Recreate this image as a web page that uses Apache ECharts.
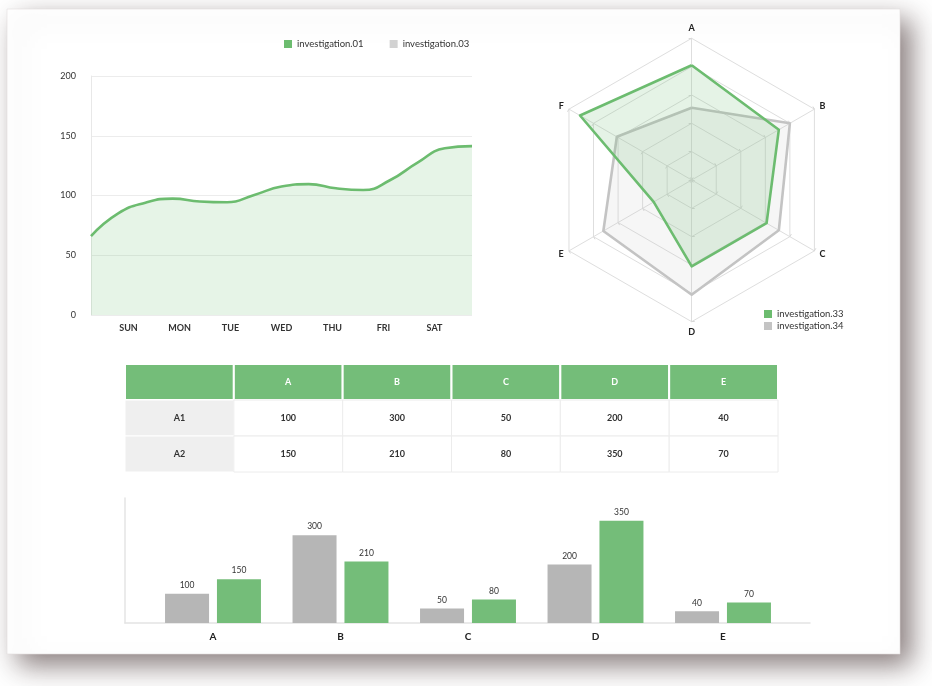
<!DOCTYPE html>
<html><head><meta charset="utf-8">
<script src="https://cdn.jsdelivr.net/npm/echarts@6/dist/echarts.min.js"></script>
<style>html,body{margin:0;padding:0;background:#fff;}#c{width:932px;height:686px;}</style>
</head><body><div id="c"></div>
<script>
// ---- data ----
const days = ['SUN', 'MON', 'TUE', 'WED', 'THU', 'FRI', 'SAT'];
// curve read at 15 evenly spaced positions across the plot
const lineValues = [66, 85, 94, 97.4, 95, 94.3, 100.5, 107.5, 109.5, 106, 104.6, 113, 127.5, 139.5, 141.3];
const lineLegend = ['investigation.01', 'investigation.03'];
const radarAxes = ['A', 'B', 'C', 'D', 'E', 'F'];
const radarMax = 100;
const radar33 = [81, 71, 61, 61, 31, 91];
const radar34 = [51, 80, 71, 81, 72, 61];
const radarLegend = ['investigation.33', 'investigation.34'];
const tableCols = ['A', 'B', 'C', 'D', 'E'];
const rowNames = ['A1', 'A2'];
const a1Values = [100, 300, 50, 200, 40];
const a2Values = [150, 210, 80, 350, 70];

const GREEN = '#74bd79';
const LINEGREEN = '#6cbc6f';
const GREY = '#b6b6b6';
const FONT = 'Lato';

// radar drawn clockwise: A, then B on the right ...
const order = [0, 5, 4, 3, 2, 1];
const pick = arr => order.map(i => arr[i]);

// table cells built from the arrays above
const tableRows = [[''].concat(tableCols), [rowNames[0]].concat(a1Values), [rowNames[1]].concat(a2Values)];
const cells = [];
tableRows.forEach((row, r) => row.forEach((t, c) => cells.push({ col: c, row: r, text: String(t) })));

const chart = echarts.init(document.getElementById('c'));
chart.setOption({
  animation: false,
  textStyle: { fontFamily: FONT },
  graphic: [{
    type: 'rect', z: -10,
    shape: { x: 7, y: 9, width: 893, height: 645 },
    style: { fill: '#fff', stroke: '#e2dede', lineWidth: 0.6, shadowBlur: 26, shadowOffsetX: 11, shadowOffsetY: 11, shadowColor: 'rgba(60,40,40,0.6)' }
  }],
  legend: [{
    data: lineLegend, left: 279, top: 34, itemWidth: 8, itemHeight: 8, itemGap: 26, icon: 'rect',
    textStyle: { fontSize: 9.5, color: '#333', fontFamily: FONT }
  }, {
    data: radarLegend, orient: 'vertical', left: 759, top: 304, itemWidth: 8, itemHeight: 8, itemGap: 2, icon: 'rect',
    textStyle: { fontSize: 9.5, color: '#333', fontFamily: FONT }
  }],
  grid: [
    { left: 91, top: 76, width: 381, height: 239 },
    { left: 103, top: 76, width: 357, height: 239 },
    { left: 125, top: 364, width: 653, height: 108 },
    { left: 149.25, top: 506, width: 637.5, height: 117 },
    { left: 125, top: 498, width: 685, height: 125 }
  ],
  xAxis: [
    { gridIndex: 0, type: 'value', min: 0, max: lineValues.length - 1, show: false },
    { gridIndex: 1, type: 'category', data: days, axisLine: { show: false }, axisTick: { show: false },
      axisLabel: { fontSize: 9, color: '#333', fontWeight: 'bold', margin: 9, fontFamily: FONT } },
    { gridIndex: 2, type: 'category', data: tableRows[0], show: false },
    { gridIndex: 3, type: 'category', data: tableCols, axisLine: { show: false }, axisTick: { show: false },
      axisLabel: { fontSize: 10, color: '#222', fontWeight: 'bold', margin: 9, fontFamily: FONT } },
    { gridIndex: 4, type: 'category', data: [''], axisLine: { lineStyle: { color: '#e4e4e4', width: 1.5 } }, axisTick: { show: false }, axisLabel: { show: false } }
  ],
  yAxis: [
    { gridIndex: 0, type: 'value', min: 0, max: 200, interval: 50,
      axisLine: { show: true, lineStyle: { color: '#e8e8e8' } }, axisTick: { show: false },
      axisLabel: { fontSize: 9, color: '#333', margin: 15, fontFamily: FONT },
      splitLine: { lineStyle: { color: '#ececec', width: 1.2 } } },
    { gridIndex: 1, type: 'value', show: false },
    { gridIndex: 2, type: 'category', data: ['', rowNames[0], rowNames[1]], inverse: true, show: false },
    { gridIndex: 3, type: 'value', min: 0, max: 400, show: false },
    { gridIndex: 4, type: 'value', min: 0, max: 1, axisLine: { show: true, lineStyle: { color: '#e4e4e4', width: 1.5 } },
      axisTick: { show: false }, axisLabel: { show: false }, splitLine: { show: false } }
  ],
  radar: {
    center: [691.7, 180], radius: 141.7, startAngle: 90, splitNumber: 5,
    indicator: pick(radarAxes).map(n => ({ name: n, max: radarMax })),
    axisName: { color: '#222', fontSize: 9, fontWeight: 'bold', fontFamily: FONT },
    nameGap: 6,
    splitLine: { lineStyle: { color: '#dedede', width: 1 } },
    splitArea: { show: false },
    axisLine: { lineStyle: { color: '#dedede' } },
    axisTick: { show: true, length: 3, lineStyle: { color: '#d8d8d8' } }
  },
  series: [
    { name: lineLegend[0], type: 'line', xAxisIndex: 0, yAxisIndex: 0, data: lineValues.map((v, i) => [i, v]), smooth: true, symbol: 'none',
      itemStyle: { color: LINEGREEN }, lineStyle: { color: LINEGREEN, width: 2.6 },
      areaStyle: { color: 'rgba(116,190,120,0.25)' } },
    { name: lineLegend[1], type: 'line', xAxisIndex: 0, yAxisIndex: 0, data: [], itemStyle: { color: '#d2d2d2' } },
    { type: 'radar', symbol: 'none', data: [
      { name: radarLegend[1], value: pick(radar34), itemStyle: { color: '#c4c4c4' },
        lineStyle: { color: '#c4c4c4', width: 2.6 }, areaStyle: { color: 'rgba(190,190,190,0.2)' } },
      { name: radarLegend[0], value: pick(radar33), itemStyle: { color: LINEGREEN },
        lineStyle: { color: LINEGREEN, width: 2.6 }, areaStyle: { color: 'rgba(116,190,120,0.27)' } }
    ] },
    { type: 'custom', xAxisIndex: 2, yAxisIndex: 2, data: cells.map(c => [c.col, c.row]),
      renderItem: function (params, api) {
        const cell = cells[params.dataIndex];
        const pt = api.coord([cell.col, cell.row]);
        const sz = api.size([1, 1]);
        let fill = '#fff', stroke = '#ececec', color = '#333', lw = 1;
        if (cell.row === 0) { fill = GREEN; stroke = '#fff'; color = '#fff'; lw = 2; }
        else if (cell.col === 0) { fill = '#efefef'; stroke = '#fff'; }
        return { type: 'group', children: [
          { type: 'rect', shape: { x: pt[0] - sz[0] / 2, y: pt[1] - sz[1] / 2, width: sz[0], height: sz[1] },
            style: { fill: fill, stroke: stroke, lineWidth: lw } },
          { type: 'text', x: pt[0], y: pt[1], style: { text: cell.text, fill: color, font: 'bold 9px ' + FONT, align: 'center', verticalAlign: 'middle' } }
        ] };
      } },
    { name: rowNames[0], type: 'bar', xAxisIndex: 3, yAxisIndex: 3, data: a1Values, barWidth: 44, barGap: '18%',
      itemStyle: { color: GREY },
      label: { show: true, position: 'top', distance: 4, fontSize: 8.5, color: '#333', fontFamily: FONT } },
    { name: rowNames[1], type: 'bar', xAxisIndex: 3, yAxisIndex: 3, data: a2Values, barWidth: 44, barGap: '18%',
      itemStyle: { color: GREEN },
      label: { show: true, position: 'top', distance: 4, fontSize: 8.5, color: '#333', fontFamily: FONT } }
  ]
});
</script></body></html>
